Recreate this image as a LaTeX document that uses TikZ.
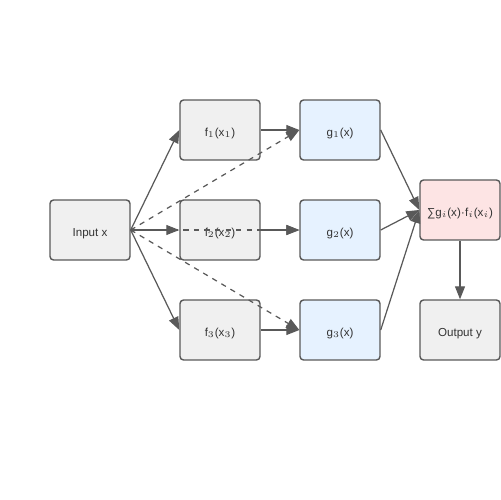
\documentclass[tikz,border=0pt]{standalone}
\usepackage{fontspec}
\setmainfont{Liberation Sans}
\usetikzlibrary{arrows.meta}

\tikzset{
    box/.style={draw=black!65, line width=0.8pt, rounded corners=2pt, minimum width=1.6cm, minimum height=1.2cm, inner sep=0pt, text height=7pt, text depth=0pt, font=\fontsize{6.6}{8}\selectfont, text=black!80},
    link/.style={draw=black!65, line width=0.7pt, -{Triangle[length=0.26cm, width=0.2cm]}},
}

\begin{document}
\begin{tikzpicture}[x=0.02cm, y=-0.02cm]
    \useasboundingbox (0,0) rectangle (500,500);
    \definecolor{grayfill}{HTML}{F0F0F0}
    \definecolor{bluefill}{HTML}{E6F2FF}
    \definecolor{pinkfill}{HTML}{FDE4E4}

    \node[box, fill=grayfill] (in) at (90, 230) {Input x};
    \node[box, fill=grayfill] (f1) at (220, 130) {f$_1$(x$_1$)};
    \node[box, fill=grayfill] (f2) at (220, 230) {f$_2$(x$_2$)};
    \node[box, fill=grayfill] (f3) at (220, 330) {f$_3$(x$_3$)};
    \node[box, fill=bluefill] (g1) at (340, 130) {g$_1$(x)};
    \node[box, fill=bluefill] (g2) at (340, 230) {g$_2$(x)};
    \node[box, fill=bluefill] (g3) at (340, 330) {g$_3$(x)};
    \node[box, fill=pinkfill] (sum) at (460, 210) {∑g$_i$(x)$\cdot$f$_i$(x$_i$)};
    \node[box, fill=grayfill] (out) at (460, 330) {Output y};

    \draw[link] (in.east) -- (f1.west);
    \draw[link] (in.east) -- (f2.west);
    \draw[link] (in.east) -- (f3.west);
    \draw[link] (f1) -- (g1);
    \draw[link] (f2) -- (g2);
    \draw[link] (f3) -- (g3);
    \draw[link, dashed] (in.east) -- (g1.west);
    \draw[link, dashed] (in.east) -- (g2.west);
    \draw[link, dashed] (in.east) -- (g3.west);
    \draw[link] (g1.east) -- (sum.west);
    \draw[link] (g2.east) -- (sum.west);
    \draw[link] (g3.east) -- (sum.west);
    \draw[link] (sum) -- (out);
\end{tikzpicture}
\end{document}
